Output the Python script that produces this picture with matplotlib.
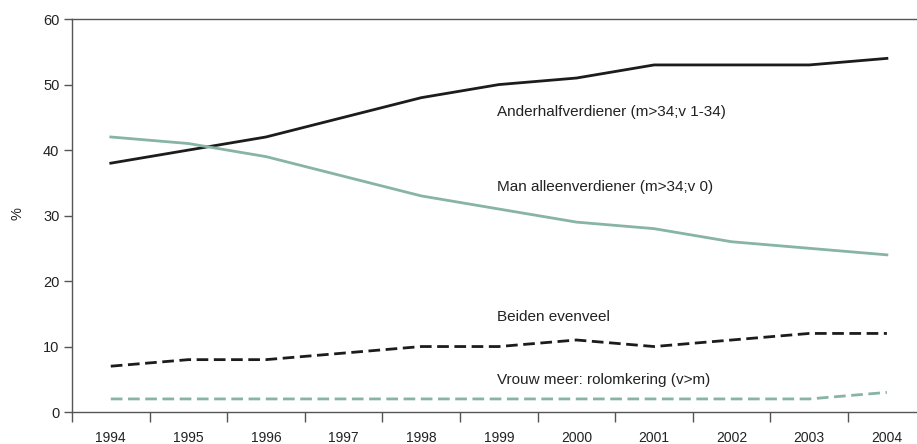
import matplotlib
matplotlib.use('Agg')
from matplotlib import pyplot as plt
import numpy as np

plt.rcParams['font.family'] = ['Liberation Sans', 'DejaVu Sans']

years = ['1994', '1995', '1996', '1997', '1998', '1999', '2000', '2001', '2002', '2003', '2004']
anderhalf = [38, 40, 42, 45, 48, 50, 51, 53, 53, 53, 54]
man_alleen = [42, 41, 39, 36, 33, 31, 29, 28, 26, 25, 24]
beiden = [7, 8, 8, 9, 10, 10, 11, 10, 11, 12, 12]
vrouw_meer = [2, 2, 2, 2, 2, 2, 2, 2, 2, 2, 3]

black = '#1c1c1c'
green = '#87b4a4'
grey = '#555555'

fig = plt.figure(figsize=(9.17, 4.44), dpi=100)
ax = fig.add_axes([0.0785, 0.072, 0.931, 0.885])

x = np.arange(len(years))
ax.plot(x, anderhalf, color=black, lw=2)
ax.plot(x, man_alleen, color=green, lw=2)
ax.plot(x, beiden, color=black, lw=2, dashes=(4.2, 2))
ax.plot(x, vrouw_meer, color=green, lw=2, dashes=(4.2, 2))

labels = [(45.8, 'Anderhalfverdiener (m>34;v 1-34)'),
          (34.4, 'Man alleenverdiener (m>34;v 0)'),
          (14.5, 'Beiden evenveel'),
          (4.9, 'Vrouw meer: rolomkering (v>m)')]
for yy, txt in labels:
    ax.text(4.97, yy, txt, fontsize=11, color='#222222', va='center', ha='left')

ax.set_xlim(-0.5, 10.5)
ax.set_ylim(0, 60)
ax.set_yticks(np.arange(0, 61, 10))
ax.set_xticks(np.arange(-0.5, 10.5, 1))
ax.set_xticklabels([])
ax.set_xticks(x, minor=True)
ax.set_xticklabels(years, minor=True)
ax.tick_params(axis='x', which='major', length=7, width=1, color=grey, direction='out')
ax.tick_params(axis='x', which='minor', length=0, pad=14, labelsize=10, labelcolor='#222222')
ax.tick_params(axis='y', length=6, width=1, color=grey, labelsize=10.5, labelcolor='#222222', pad=3)

for s in ['left', 'bottom', 'top']:
    ax.spines[s].set_color(grey)
    ax.spines[s].set_linewidth(1)
ax.spines['right'].set_visible(False)

fig.text(0.019, 0.52, '%', rotation=90, fontsize=10.5, color='#222222', va='center', ha='center')

fig.savefig('out.png', dpi=100)
